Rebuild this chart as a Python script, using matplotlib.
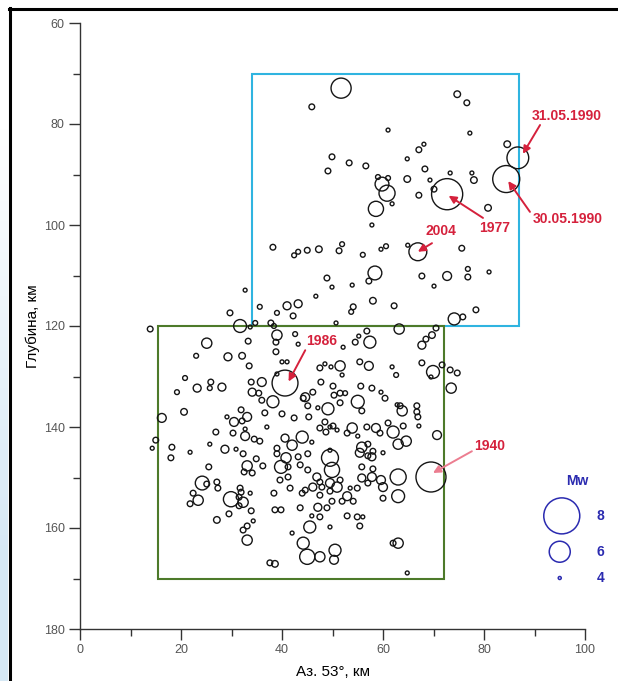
import numpy as np
import matplotlib.pyplot as plt
from matplotlib.patches import Rectangle
from matplotlib.lines import Line2D

plt.rcParams['font.family'] = ['Liberation Sans', 'DejaVu Sans']

# --- data: distance along azimuth 53 deg (km), depth (km), magnitude Mw ---
dist_km = [
    45.9, 51.7, 74.7, 76.6, 61.0, 77.2, 68.1, 67.1, 84.6, 86.7, 84.4, 49.9, 53.3, 56.6, 49.1,
    64.8, 68.3, 73.3, 77.6, 78.0, 64.8, 69.3, 59.0, 61.0, 59.8, 60.8, 72.7, 70.1, 67.1, 61.8,
    58.6, 80.8, 57.8, 66.9, 64.9, 75.6, 45.0, 47.3, 51.9, 51.3, 56.0, 59.6, 60.6, 58.4, 57.2,
    48.9, 49.9, 53.9, 46.7, 67.7, 72.7, 76.8, 76.8, 70.1, 81.0, 58.0, 62.2, 54.1, 53.7, 74.1,
    75.8, 78.4, 50.7, 56.8, 63.2, 70.5, 69.7, 38.2, 42.4, 43.2, 32.7, 29.7, 35.6, 39.0, 41.0,
    43.2, 42.2, 31.7, 33.7, 34.7, 37.8, 38.4, 13.9, 39.0, 42.6,
    25.1, 33.3, 38.8, 23.0, 29.3, 32.1, 33.5, 38.8, 40.0, 41.0, 40.6, 20.8, 25.9, 25.7, 23.2,
    28.1, 19.2, 33.9, 36.0, 34.1, 35.4, 38.2, 36.0, 39.0, 20.6, 16.2, 31.9, 33.1, 30.5, 29.1,
    32.1, 36.6, 40.0, 42.4, 37.0, 26.9, 32.7, 30.3, 32.7, 34.5, 35.6, 15.0, 14.3, 18.2, 18.0,
    21.8, 25.7, 25.5, 28.7, 30.9, 32.3, 34.9, 36.2, 33.1, 32.5, 34.1, 40.6, 42.0, 39.0, 39.0,
    40.8, 39.8, 41.2, 39.6, 41.2, 24.2, 25.1, 27.1, 27.3, 22.4, 23.4, 21.8, 29.9, 31.7, 31.9,
    31.5, 32.3, 31.5, 33.7, 33.9, 29.5, 27.1, 34.3, 33.1, 32.3, 33.1, 38.4, 38.6, 39.8, 42.0,
    37.6, 38.6,
    54.5, 57.4, 55.2, 68.5, 67.7, 52.1, 43.2, 47.5, 48.5, 49.7, 51.5, 55.4, 57.2, 51.9, 61.8,
    62.6, 67.7, 69.9, 69.5, 71.7, 73.3, 74.7, 73.5, 47.7, 50.1, 55.6, 57.8, 59.6, 60.4, 51.5,
    52.5, 50.3, 44.6, 46.1, 55.0, 55.8, 49.1, 51.5, 47.1, 45.1, 45.3, 63.4, 63.8, 66.7, 66.7,
    66.9, 67.1, 53.9, 56.8, 58.6, 59.4, 61.0, 62.0, 64.0, 64.6, 63.0, 70.7, 48.5, 49.5, 50.1,
    50.9, 47.5, 48.7, 44.0, 45.9, 52.9, 55.0, 55.8, 57.0, 58.0, 57.0, 57.8, 60.0, 55.8, 57.8,
    59.6, 60.0, 60.0, 63.0, 63.0, 69.5,
    44.2, 62.8, 55.4, 49.5, 49.5, 49.9, 43.6, 43.2, 45.1, 46.9, 47.5, 49.5, 50.9, 51.5, 47.9,
    46.1, 44.6, 41.6, 53.5, 52.9, 49.9, 51.9, 54.1, 55.8, 57.0, 58.0, 47.1, 47.5, 45.5, 49.5,
    43.6, 45.9, 52.9, 54.9, 56.0, 55.4, 63.0, 62.0, 44.2, 45.0, 47.5, 50.5, 50.3, 64.8, 48.9,
    45.1, 49.5, 47.5, 54.9, 44.0,
]
depth_km = [
    76.6, 72.9, 74.1, 75.8, 81.2, 81.8, 84.0, 85.1, 84.0, 86.7, 90.9, 86.5, 87.7, 88.3, 89.3,
    86.9, 88.9, 89.7, 89.7, 91.1, 90.9, 91.1, 90.5, 90.7, 91.9, 93.7, 93.9, 92.9, 94.1, 95.8,
    96.8, 96.6, 100.0, 105.3, 104.0, 104.6, 105.0, 104.8, 103.8, 105.1, 105.9, 104.8, 104.2, 109.5, 111.1,
    110.5, 112.3, 111.9, 114.1, 110.1, 110.1, 110.3, 108.7, 112.1, 109.3, 115.0, 116.0, 116.2, 117.2, 118.6,
    118.2, 116.8, 119.4, 121.0, 120.6, 120.4, 121.8, 104.4, 106.0, 105.3, 112.9, 117.4, 116.2, 117.4, 116.0,
    115.6, 118.0, 120.0, 120.2, 119.4, 119.4, 120.0, 120.6, 121.8, 121.6,
    123.4, 123.0, 123.2, 125.9, 126.1, 125.9, 127.9, 125.1, 127.1, 127.1, 131.3, 130.3, 131.1, 132.3, 132.3,
    132.1, 133.1, 131.1, 131.1, 133.1, 133.3, 135.0, 134.7, 129.5, 137.0, 138.2, 136.6, 138.0, 139.0, 138.0,
    138.8, 137.2, 137.4, 138.2, 140.0, 141.0, 140.4, 141.2, 141.8, 142.4, 142.8, 142.6, 144.2, 144.0, 146.1,
    145.0, 143.4, 147.9, 144.4, 144.4, 145.3, 146.3, 147.7, 147.7, 148.9, 149.1, 142.2, 143.6, 144.2, 145.3,
    146.1, 147.9, 147.9, 150.5, 149.9, 151.1, 151.3, 150.9, 152.1, 153.1, 154.5, 155.2, 154.3, 152.1, 152.9,
    153.9, 154.9, 155.6, 153.1, 156.6, 157.2, 158.4, 158.6, 159.6, 160.4, 162.4, 153.1, 156.4, 156.4, 161.0,
    166.9, 167.1,
    123.2, 123.2, 122.0, 122.6, 123.8, 124.2, 123.6, 128.3, 127.5, 128.1, 127.9, 127.1, 127.9, 129.7, 128.1,
    129.7, 127.3, 129.1, 130.1, 127.7, 128.7, 129.3, 132.3, 131.1, 131.9, 131.9, 132.3, 133.1, 134.3, 133.3,
    133.3, 133.7, 134.1, 133.1, 135.0, 136.8, 136.4, 135.2, 136.2, 135.8, 138.0, 135.8, 136.8, 135.8, 137.0,
    138.0, 139.8, 140.2, 140.0, 140.2, 141.2, 139.2, 141.0, 139.8, 142.8, 143.4, 141.6, 139.0, 140.0, 139.8,
    140.6, 140.2, 141.0, 142.0, 143.0, 141.2, 141.8, 144.0, 143.4, 144.8, 145.7, 145.9, 145.1, 147.9, 149.9,
    150.5, 151.9, 154.1, 149.9, 153.7, 149.9,
    134.3, 135.6, 145.1, 146.1, 144.6, 148.5, 147.5, 145.9, 148.5, 149.9, 150.9, 151.1, 151.9, 150.5, 151.9,
    151.9, 152.5, 152.1, 152.1, 153.7, 154.7, 154.7, 154.7, 150.1, 151.1, 148.3, 155.9, 157.8, 159.8, 159.8,
    156.0, 157.6, 157.6, 157.8, 157.8, 159.6, 163.0, 163.0, 163.0, 165.7, 165.7, 164.4, 166.3, 168.9, 156.0,
    145.3, 152.7, 153.5, 152.1, 153.1,
]
mw = [
    4.3, 5.9, 4.4, 4.3, 4.1, 4.1, 4.1, 4.3, 4.4, 6.1, 6.8, 4.3, 4.3, 4.3, 4.3,
    4.1, 4.3, 4.1, 4.1, 4.4, 4.4, 4.1, 4.2, 4.2, 5.2, 5.45, 7.35, 4.3, 4.3, 4.1,
    5.35, 4.4, 4.1, 5.65, 4.1, 4.3, 4.3, 4.4, 4.2, 4.3, 4.2, 4.1, 4.2, 5.2, 4.3,
    4.3, 4.1, 4.1, 4.1, 4.3, 4.65, 4.3, 4.2, 4.1, 4.1, 4.4, 4.3, 4.3, 4.2, 5.0,
    4.3, 4.3, 4.1, 4.3, 4.8, 4.3, 4.4, 4.3, 4.2, 4.2, 4.1, 4.3, 4.2, 4.2, 4.55,
    4.55, 4.3, 5.1, 4.1, 4.2, 4.3, 4.2, 4.3, 4.8, 4.2,
    4.8, 4.3, 4.3, 4.2, 4.55, 4.4, 4.3, 4.3, 4.1, 4.1, 6.65, 4.2, 4.3, 4.2, 4.55,
    4.55, 4.2, 4.3, 4.65, 4.55, 4.3, 5.0, 4.3, 4.1, 4.4, 4.65, 4.3, 4.65, 4.65, 4.1,
    4.3, 4.3, 4.3, 4.3, 4.1, 4.3, 4.1, 4.3, 4.65, 4.3, 4.3, 4.3, 4.1, 4.3, 4.3,
    4.1, 4.1, 4.3, 4.55, 4.1, 4.3, 4.3, 4.3, 4.8, 4.3, 4.3, 4.55, 4.8, 4.3, 4.3,
    4.8, 5.1, 4.3, 4.3, 4.3, 5.2, 4.3, 4.3, 4.3, 4.3, 4.8, 4.3, 5.35, 4.3, 4.3,
    4.3, 4.8, 4.3, 4.1, 4.3, 4.3, 4.4, 4.1, 4.3, 4.3, 4.8, 4.3, 4.3, 4.3, 4.1,
    4.3, 4.4,
    4.3, 5.0, 4.1, 4.3, 4.55, 4.1, 4.1, 4.3, 4.1, 4.1, 4.8, 4.3, 4.65, 4.1, 4.1,
    4.2, 4.3, 5.1, 4.1, 4.3, 4.3, 4.3, 4.8, 4.3, 4.3, 4.3, 4.3, 4.1, 4.3, 4.3,
    4.2, 4.3, 4.65, 4.3, 5.1, 4.3, 5.0, 4.3, 4.1, 4.3, 4.3, 4.3, 4.8, 4.3, 4.3,
    4.3, 4.1, 4.8, 4.3, 4.65, 4.3, 4.3, 5.0, 4.3, 4.8, 4.8, 4.65, 4.3, 4.1, 4.3,
    4.1, 4.3, 4.3, 5.0, 4.1, 4.3, 4.1, 4.8, 4.3, 4.3, 4.3, 4.55, 4.1, 4.3, 4.65,
    4.65, 4.65, 4.3, 5.45, 5.1, 7.2,
    4.3, 4.1, 4.65, 5.55, 4.1, 5.35, 4.3, 4.3, 4.3, 4.55, 4.3, 4.65, 4.8, 4.3, 4.3,
    4.55, 4.3, 4.3, 4.1, 4.65, 4.3, 4.3, 4.3, 4.55, 4.3, 4.3, 4.55, 4.3, 5.0, 4.1,
    4.3, 4.1, 4.3, 4.3, 4.1, 4.3, 4.8, 4.3, 5.0, 5.35, 4.8, 5.0, 4.65, 4.1, 4.3,
    4.3, 4.3, 4.3, 4.3, 4.3,
]

event_labels = ['31.05.1990', '30.05.1990', '1977', '2004', '1986', '1940']
legend_mw = [8, 6, 4]

# study boxes: (x0, x1, y0, y1)
upper_box = (34, 87, 70, 120)
lower_box = (15.5, 72, 120, 170)

# Mw -> circle diameter in pixels
scale_mw = [4, 6, 8]
scale_px = [3, 21, 36]
DPI = 100


def mw_to_size(m):
    d_px = np.interp(m, scale_mw, scale_px)
    return (d_px * 72.0 / DPI) ** 2


fig = plt.figure(figsize=(6.18, 6.81), dpi=DPI)
ax = fig.add_axes([80 / 618, 52 / 681, 505 / 618, 606 / 681])

# boxes
for (x0, x1, y0, y1), col in [(upper_box, '#2fb4e0'), (lower_box, '#4d7a2a')]:
    ax.add_patch(Rectangle((x0, y0), x1 - x0, y1 - y0, fill=False,
                           edgecolor=col, lw=1.5, zorder=1))

# events
ax.scatter(dist_km, depth_km, s=mw_to_size(np.array(mw)), facecolors='none',
           edgecolors='#151515', linewidths=1.0, zorder=2)

# labelled events: text position, arrow tail, arrow head
red = '#d5213c'
ann = [
    ((96.4, 78.4), (91.1, 80.2), (87.7, 85.9), red),
    ((96.6, 98.8), (89.1, 97.4), (84.8, 91.3), red),
    ((82.2, 100.6), (79.8, 98.6), (73.0, 94.2), red),
    ((71.5, 101.2), (69.7, 103.6), (66.9, 105.3), red),
    ((47.9, 123.0), (44.6, 124.8), (41.3, 131.0), red),
    ((81.2, 143.8), (77.6, 144.8), (69.9, 149.1), '#ec7d90'),
]
for lab, (tpos, tail, head, col) in zip(event_labels, ann):
    ax.text(tpos[0], tpos[1], lab, color=red, fontsize=10, fontweight='bold',
            ha='center', va='center', zorder=4)
    ax.annotate('', xy=head, xytext=tail,
                arrowprops=dict(arrowstyle='-|>', color=col, lw=1.4,
                                mutation_scale=11, shrinkA=0, shrinkB=0),
                zorder=4)

# Mw legend
blue = '#2b2bb0'
leg_x = [95.4, 95.0, 95.0]
leg_y = [157.6, 164.7, 169.9]
ax.scatter(leg_x, leg_y, s=mw_to_size(np.array(legend_mw, dtype=float)),
           facecolors='none', edgecolors=blue, linewidths=1.1, clip_on=False, zorder=3)
for yy, m in zip(leg_y, legend_mw):
    ax.text(103.0, yy, str(m), color=blue, fontsize=10, fontweight='bold',
            ha='center', va='center', clip_on=False)
ax.text(98.4, 150.7, 'Mw', color=blue, fontsize=10, fontweight='bold',
        ha='center', va='center', clip_on=False)

# axes
ax.set_xlim(0, 100)
ax.set_ylim(180, 60)
ax.set_xticks(np.arange(0, 101, 20))
ax.set_xticks(np.arange(10, 100, 20), minor=True)
ax.set_yticks(np.arange(60, 181, 20))
ax.set_yticks(np.arange(70, 180, 20), minor=True)
for sp in ['top', 'right']:
    ax.spines[sp].set_visible(False)
for sp in ['left', 'bottom']:
    ax.spines[sp].set_color('#333333')
    ax.spines[sp].set_linewidth(1.0)
ax.tick_params(which='major', length=8, width=1.0, color='#333333',
               labelsize=9, labelcolor='#555555', pad=3)
ax.tick_params(which='minor', length=5, width=1.0, color='#333333')
ax.set_xlabel('Аз. 53°, км', fontsize=11, labelpad=6)
ax.set_ylabel('Глубина, км', fontsize=11, labelpad=3)
ax.patch.set_alpha(0)

# screenshot frame: light blue strip on the left and black border
strip = fig.add_axes([0, 0, 8 / 618, 1])
grad = np.linspace(0, 1, 200)[:, None]
rgb = np.ones((200, 1, 3))
rgb[:, 0, 0] = 1 - 0.16 * np.clip(grad[:, 0] * 1.6 - 0.3, 0, 1)
rgb[:, 0, 1] = 1 - 0.09 * np.clip(grad[:, 0] * 1.6 - 0.3, 0, 1)
rgb[:, 0, 2] = 1 - 0.04 * np.clip(grad[:, 0] * 1.6 - 0.3, 0, 1)
strip.imshow(rgb, aspect='auto', extent=[0, 1, 0, 1])
strip.axis('off')
fig.add_artist(Line2D([9.5 / 618, 9.5 / 618], [0, 1 - 8 / 681],
                      transform=fig.transFigure, color='black', lw=2.2))
fig.add_artist(Line2D([8.5 / 618, 1], [1 - 9 / 681, 1 - 9 / 681],
                      transform=fig.transFigure, color='black', lw=2.2))

fig.savefig('out.png', dpi=DPI)
